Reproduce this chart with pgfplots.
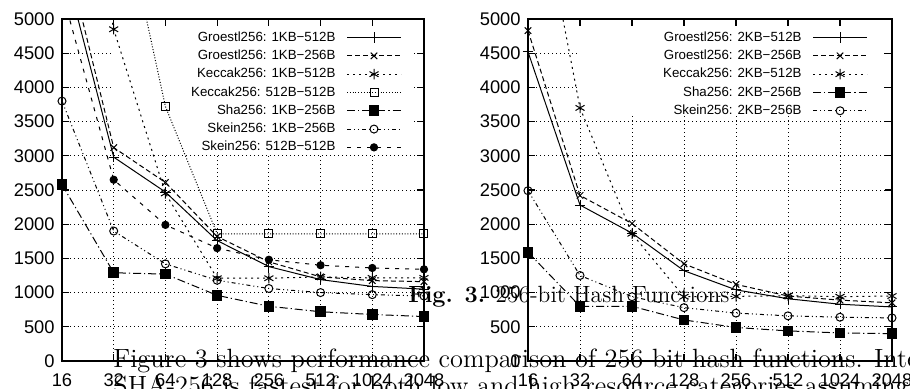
\documentclass[border=0pt]{standalone}
\usepackage{pgfplots}
\pgfplotsset{compat=1.18}
\usepackage{fontspec}
\newfontfamily\arial{Liberation Sans}
\newcommand\lgf{\fontsize{6.65}{8}\selectfont\arial}
\pgfplotsset{
  legend image code/.code={\draw[mark repeat=2,mark phase=2,#1] plot coordinates {(0pt,0pt) (13.5pt,0pt) (27pt,0pt)};},
  hashaxis/.style={
    scale only axis, width=181pt, height=171pt,
    xmin=0, xmax=7, ymin=0, ymax=5000,
    xtick={0,...,7}, xticklabels={16,32,64,128,256,512,1024,2048},
    ytick={0,500,...,5000},
    /pgf/number format/assume math mode=true,
    /pgf/number format/1000 sep={},
    tick label style={font=\fontsize{9.15}{11}\arial},
    yticklabel style={anchor=east, inner sep=0pt, xshift=-3.5pt},
    xticklabel style={anchor=north, inner sep=0pt, yshift=-6pt},
    grid=major,
    major grid style={black, line width=0.45pt, dash pattern=on 0.5pt off 1.5pt},
    major tick length=3.5pt,
    tick style={black, line width=0.6pt},
    axis line style={line width=0.8pt},
    tick align=inside,
    legend cell align=right,
    legend plot pos=right,
    legend style={draw=none, fill=none, inner sep=0pt, font=\lgf,
      row sep=2.95pt, column sep=5.5pt,
      nodes={inner sep=0pt, text height=4.9pt, text depth=1.3pt, font=\lgf}},
  },
  pl/.style={black, line width=0.5pt},
  sA/.style={pl, solid, mark=+, mark size=2.6pt, mark options={solid}},
  sB/.style={pl, dash pattern=on 2.5pt off 1.5pt, mark=x, mark size=2.3pt, mark options={solid}},
  sC/.style={pl, dash pattern=on 1pt off 2pt, mark=asterisk, mark size=2.6pt, mark options={solid}},
  sD/.style={pl, dash pattern=on 0.5pt off 0.9pt, mark=square, mark size=2pt, mark options={solid}},
  sE/.style={pl, dash pattern=on 4pt off 1.5pt on 0.6pt off 1.5pt, mark=square*, mark size=2.4pt, mark options={solid, fill=black}},
  sF/.style={pl, dash pattern=on 2pt off 1.5pt on 0.5pt off 1.5pt on 0.5pt off 1.5pt, mark=o, mark size=2pt, mark options={solid}},
  sG/.style={pl, dash pattern=on 2pt off 3pt, mark=*, mark size=1.8pt, mark options={solid, fill=black}},
}
\begin{document}
\begin{tikzpicture}
\useasboundingbox (0,0) rectangle (455pt,194.5pt);
\begin{axis}[hashaxis, at={(31pt,14pt)}, anchor=south west,
  legend style={at={(0.939,0.965)}, anchor=north east}]
\fill[white] (axis cs:0.99,3030) rectangle (axis cs:6.8,4900);
\addplot[sA] coordinates {(0,5900) (1,2980) (2,2470) (3,1760) (4,1380) (5,1190) (6,1090) (7,1050)};
\addlegendentry{Groestl256: 1KB−512B}
\addplot[sB] coordinates {(0,6200) (1,3120) (2,2610) (3,1820) (4,1450) (5,1230) (6,1175) (7,1160)};
\addlegendentry{Groestl256: 1KB−256B}
\addplot[sC] coordinates {(0,9000) (1,4850) (2,2450) (3,1210) (4,1210) (5,1230) (6,1215) (7,1215)};
\addlegendentry{Keccak256: 1KB−512B}
\addplot[sD] coordinates {(1,7200) (2,3720) (3,1860) (4,1860) (5,1860) (6,1860) (7,1860)};
\addlegendentry{Keccak256: 512B−512B}
\addplot[sE] coordinates {(0,2580) (1,1290) (2,1270) (3,960) (4,800) (5,720) (6,680) (7,650)};
\addlegendentry{Sha256: 1KB−256B}
\addplot[sF] coordinates {(0,3800) (1,1900) (2,1420) (3,1180) (4,1060) (5,1000) (6,970) (7,950)};
\addlegendentry{Skein256: 1KB−256B}
\addplot[sG] coordinates {(0,5400) (1,2650) (2,1990) (3,1650) (4,1480) (5,1400) (6,1360) (7,1340)};
\addlegendentry{Skein256: 512B−512B}
\end{axis}
\begin{axis}[hashaxis, width=182pt, at={(264pt,14pt)}, anchor=south west,
  legend style={at={(0.934,0.965)}, anchor=north east}]
\fill[white] (axis cs:0.97,3600) rectangle (axis cs:6.8,4900);
\addplot[sA] coordinates {(0,4520) (1,2280) (2,1870) (3,1320) (4,1040) (5,910) (6,830) (7,790)};
\addlegendentry{Groestl256: 2KB−512B}
\addplot[sB] coordinates {(0,4830) (1,2420) (2,2010) (3,1420) (4,1120) (5,950) (6,890) (7,850)};
\addlegendentry{Groestl256: 2KB−256B}
\addplot[sC] coordinates {(0,7660) (1,3700) (2,1860) (3,940) (4,945) (5,955) (6,940) (7,950)};
\addlegendentry{Keccak256: 2KB−512B}
\addplot[sE] coordinates {(0,1590) (1,800) (2,800) (3,600) (4,490) (5,440) (6,410) (7,400)};
\addlegendentry{Sha256: 2KB−256B}
\addplot[sF] coordinates {(0,2490) (1,1250) (2,940) (3,780) (4,700) (5,660) (6,640) (7,630)};
\addlegendentry{Skein256: 2KB−256B}
\end{axis}
\node[anchor=base west, inner sep=0pt, font=\fontsize{11.75}{14}\selectfont] at (204pt,43pt) {\textbf{Fig. 3.} 256-bit Hash Functions};
\node[anchor=base west, inner sep=0pt, font=\fontsize{13.2}{15.8}\selectfont] at (56.5pt,10.5pt) {Figure 3 shows performance comparison of 256-bit hash functions. Intel};
\node[anchor=base west, inner sep=0pt, font=\fontsize{13.2}{15.8}\selectfont] at (56.5pt,-3pt) {SHA-256 is fastest for both low and high resource categories assuming};
\end{tikzpicture}
\end{document}
